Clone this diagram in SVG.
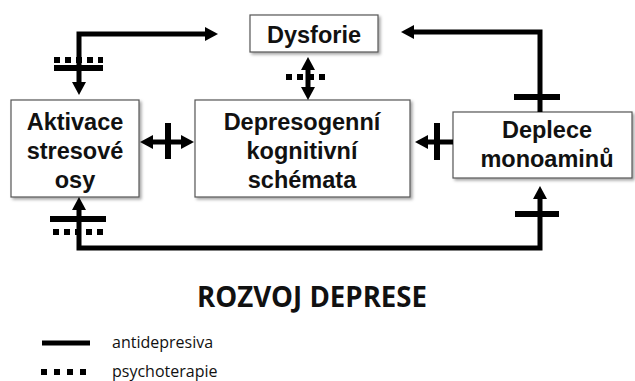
<svg xmlns="http://www.w3.org/2000/svg" width="635" height="381" viewBox="0 0 635 381">
<style>
.box{fill:#fff;stroke:#555;stroke-width:1.2;filter:url(#sh)}
.lbl{font-family:'Liberation Sans',Arial,sans-serif;font-weight:bold;font-size:23.5px;fill:#111;text-anchor:middle}
.con{fill:none;stroke:#000;stroke-width:5;stroke-linejoin:miter}
.bar{stroke:#000;stroke-width:6;fill:none}
.dot{stroke:#000;stroke-width:6;fill:none;stroke-dasharray:6 5}
</style>
<defs>
<filter id="sh" x="-10%" y="-10%" width="125%" height="130%">
<feDropShadow dx="2" dy="2" stdDeviation="1.5" flood-color="#000" flood-opacity="0.35"/>
</filter>
<marker id="ah" markerUnits="userSpaceOnUse" viewBox="0 0 13 14" markerWidth="13" markerHeight="14" refX="0" refY="7" orient="auto-start-reverse">
<path d="M0,0 L13,7 L0,14 z" fill="#000"/>
</marker>
</defs>

<g id="dysforie">
<rect class="box" x="250" y="15" width="128" height="37"/>
<text class="lbl" x="314" y="43">Dysforie</text>
</g>
<g id="aktivace">
<rect class="box" x="11" y="100" width="128" height="97"/>
<text class="lbl" x="75" y="130">Aktivace</text>
<text class="lbl" x="75" y="159">stresové</text>
<text class="lbl" x="75" y="188">osy</text>
</g>
<g id="depresogenni">
<rect class="box" x="195" y="100" width="215" height="97"/>
<text class="lbl" x="302" y="130">Depresogenní</text>
<text class="lbl" x="302" y="159">kognitivní</text>
<text class="lbl" x="302" y="188">schémata</text>
</g>
<g id="deplece">
<rect class="box" x="453" y="112" width="179" height="66"/>
<text class="lbl" x="547" y="138">Deplece</text>
<text class="lbl" x="547" y="167">monoaminů</text>
</g>

<g id="connectors">
<path class="con" d="M79,82 V34 H205" marker-start="url(#ah)" marker-end="url(#ah)"/>
<path class="con" d="M308,70 V87" marker-start="url(#ah)" marker-end="url(#ah)"/>
<path class="con" d="M153,142 H181" marker-start="url(#ah)" marker-end="url(#ah)"/>
<path class="con" d="M453,142 H428" marker-end="url(#ah)"/>
<path class="con" d="M540,112 V32 H414" marker-end="url(#ah)"/>
<path class="con" d="M79,210 V248 H540 V199" marker-start="url(#ah)" marker-end="url(#ah)"/>
<line class="bar" x1="54" y1="68" x2="103" y2="68"/>
<line class="dot" x1="54" y1="60" x2="103" y2="60"/>
<line class="bar" x1="168" y1="123" x2="168" y2="159"/>
<line class="dot" x1="286" y1="77" x2="328" y2="77"/>
<line class="bar" x1="437" y1="123" x2="437" y2="160"/>
<line class="bar" x1="514" y1="97" x2="560" y2="97"/>
<line class="bar" x1="50" y1="219" x2="106" y2="219"/>
<line class="dot" x1="53" y1="232" x2="103" y2="232"/>
<line class="bar" x1="515" y1="214" x2="559" y2="214"/>
</g>

<g id="title">
<text x="312" y="307" font-family="Open Sans, Liberation Sans, sans-serif" font-weight="700" font-size="28px" fill="#111" text-anchor="middle" textLength="230" lengthAdjust="spacingAndGlyphs">ROZVOJ DEPRESE</text>
</g>
<g id="legend">
<line x1="42" y1="343" x2="90" y2="343" stroke="#000" stroke-width="5"/>
<line x1="41" y1="372" x2="90" y2="372" stroke="#000" stroke-width="6" stroke-dasharray="6 7"/>
<text x="112" y="348" font-family="Open Sans, Liberation Sans, sans-serif" font-size="16px" fill="#111">antidepresiva</text>
<text x="112" y="377" font-family="Open Sans, Liberation Sans, sans-serif" font-size="16px" fill="#111">psychoterapie</text>
</g>
</svg>
